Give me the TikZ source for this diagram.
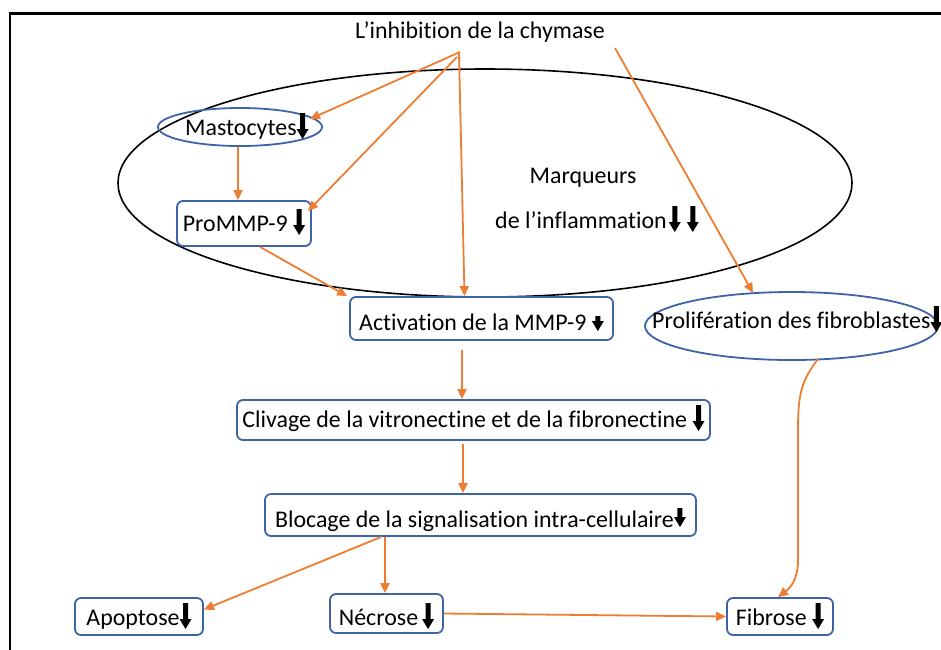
\documentclass[tikz,border=0pt]{standalone}
\usepackage{fontspec}
\setmainfont{Carlito}[Ligatures=NoCommon]
\usetikzlibrary{shapes.geometric,arrows.meta}
\definecolor{boxblue}{RGB}{61,100,168}
\definecolor{arrorange}{RGB}{237,125,49}
\newsavebox\dnboxA
\newsavebox\dnboxS
\newsavebox\dnboxM
\newcommand\arrowshape[1]{\begin{pgfpicture}%
  \pgfpathmoveto{\pgfpoint{-2.5pt}{#1}}%
  \pgfpathlineto{\pgfpoint{2.5pt}{#1}}%
  \pgfpathlineto{\pgfpoint{2.5pt}{10pt}}%
  \pgfpathlineto{\pgfpoint{6pt}{10pt}}%
  \pgfpathlineto{\pgfpoint{0pt}{0pt}}%
  \pgfpathlineto{\pgfpoint{-6pt}{10pt}}%
  \pgfpathlineto{\pgfpoint{-2.5pt}{10pt}}%
  \pgfpathclose
  \pgfusepath{fill}%
  \end{pgfpicture}}
\AtBeginDocument{%
  \sbox\dnboxA{\arrowshape{26pt}}%
  \sbox\dnboxS{\arrowshape{15pt}}%
  \sbox\dnboxM{\arrowshape{19pt}}}
\newcommand\dn{\raisebox{-4pt}{\usebox\dnboxA}}
\newcommand\dnS{\raisebox{-1pt}{\usebox\dnboxS}}
\newcommand\dnM{\raisebox{0pt}{\usebox\dnboxM}}
\begin{document}
\begin{tikzpicture}[x=1pt,y=-1pt,
  font=\fontsize{23.9}{28}\selectfont,
  box/.style={draw=boxblue, line width=1.8pt, rounded corners=6pt, inner sep=0pt, text depth=0pt},
  oval/.style={ellipse, draw=boxblue, line width=1.8pt, inner sep=0pt},
  flow/.style={draw=arrorange, line width=1.8pt, -{Triangle[length=10pt,width=9pt]}},
  plain/.style={inner sep=0pt}]
\useasboundingbox (0,0) rectangle (941,649);
\fill[white] (0,0) rectangle (941,649);
% frame
\draw[line width=2.6pt] (10,700) -- (10,13.5) -- (1000,13.5);

% big ellipse
\node[ellipse, draw=black, line width=1.6pt, inner sep=0pt, minimum width=734, minimum height=228] (big) at (485,183) {};

% texts and nodes
\node[plain, anchor=base] (title) at (480,38) {L’inhibition de la chymase};
\node[oval, minimum width=164, minimum height=38] (mast) at (240,127) {};
\node[plain, anchor=base west] (masttxt) at (185,135) {Mastocytes\dn};
\node[box, minimum width=134, minimum height=45, text height=15pt] (pro) at (244,223.5) {ProMMP-9 \dn};
\node[plain, anchor=base] (marq1) at (583,183) {Marqueurs};
\node[plain, anchor=base west] (marq2) at (495,228) {de l’inflammation\hspace{2pt}\dn\hspace{6pt}\dn};
\node[box, minimum width=263, minimum height=43, text height=23pt] (act) at (481.5,318.5) {Activation de la MMP-9 \dnS};
\node[oval, minimum width=293, minimum height=68] (prol) at (791.5,326) {};
\node[plain, anchor=base west] (proltxt) at (652,328) {Prolifération des fibroblastes\dn};
\node[box, minimum width=473, minimum height=40, text height=14pt] (cliv) at (473.5,420) {Clivage de la vitronectine et de la fibronectine \dn};
\node[box, minimum width=431, minimum height=42, text height=24pt] (bloc) at (480.5,515) {Blocage de la signalisation intra-cellulaire\dnM};
\node[box, minimum width=128, minimum height=37, text height=17pt] (apo) at (139,616.5) {Apoptose\dn};
\node[box, minimum width=113, minimum height=39, text height=23pt] (nec) at (386.5,613.5) {Nécrose\,\dn};
\node[box, minimum width=106, minimum height=37, text height=17pt] (fib) at (780,616.5) {Fibrose \dn};

% connector end points
\coordinate (t1) at (460,52);
\coordinate (t2) at (457,57);
\coordinate (t3) at (459,53);
\coordinate (t4) at (615,48);
\coordinate (m1) at (310,119);
\coordinate (pr1) at (308,211);
\coordinate (p1) at (753,293);
\coordinate (a7) at (462,350);
\coordinate (c8) at (463,444);
\coordinate (b9) at (381,537);
\coordinate (b10) at (385,537);
\coordinate (p2) at (818,359);

\draw[flow] (t1) -- (m1);
\draw[flow] (t2) -- (pr1);
\draw[flow] (t3) -- ([xshift=-17pt]act.north);
\draw[flow] (t4) -- (p1);
\draw[flow] ([xshift=-2pt]mast.south) -- ([xshift=-2pt]mast.south |- pro.north);
\draw[flow] ([xshift=16pt]pro.south) -- ([xshift=-2pt]act.north west);
\draw[flow] (a7) -- (a7 |- cliv.north);
\draw[flow] (c8) -- (c8 |- bloc.north);
\draw[flow] (b9) -- ([yshift=7pt]apo.east);
\draw[flow] (b10) -- (b10 |- nec.north);
\draw[flow] (nec.east) -- (fib.west);
\draw[flow] (p2) .. controls (798,385) and (798,400) .. (798,440) -- (798,560) .. controls (798,580) and (790,588) .. ([xshift=-2pt]fib.north);
\end{tikzpicture}
\end{document}
